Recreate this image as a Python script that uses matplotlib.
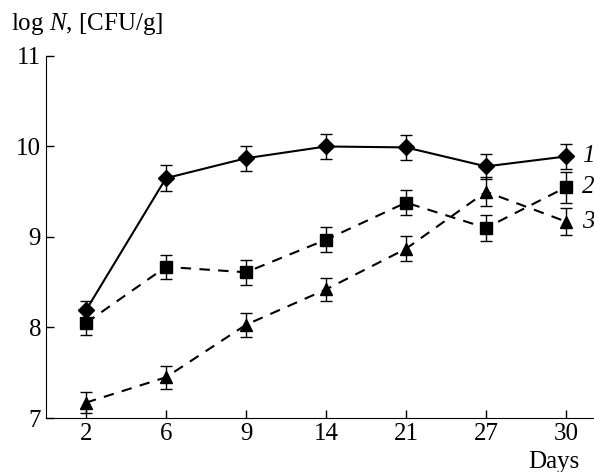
import matplotlib.pyplot as plt
import numpy as np

plt.rcParams['font.family'] = ['Liberation Serif', 'DejaVu Serif']
plt.rcParams['mathtext.fontset'] = 'custom'
plt.rcParams['mathtext.it'] = 'Liberation Serif:italic'
plt.rcParams['mathtext.rm'] = 'Liberation Serif'

days = ['2', '6', '9', '14', '21', '27', '30']
s1 = [8.19, 9.65, 9.87, 10.0, 9.99, 9.78, 9.89]
s2 = [8.05, 8.67, 8.61, 8.97, 9.38, 9.10, 9.55]
s3 = [7.17, 7.45, 8.03, 8.42, 8.87, 9.50, 9.17]
e1 = [0.10, 0.14, 0.14, 0.14, 0.14, 0.14, 0.14]
e2 = [0.13, 0.13, 0.14, 0.14, 0.14, 0.14, 0.17]
e3 = [0.12, 0.13, 0.13, 0.13, 0.14, 0.16, 0.15]
labels = ['1', '2', '3']

fig = plt.figure(figsize=(5.94, 4.72), dpi=100)
ax = fig.add_axes([0.0774, 0.1144, 0.9226, 0.767])
x = np.arange(len(days))

ax.errorbar(x, s1, yerr=e1, color='black', marker='D', markersize=8, lw=1.5,
            capsize=4.5, elinewidth=1, capthick=1)
ax.errorbar(x, s2, yerr=e2, color='black', marker='s', markersize=8, lw=1.5,
            capsize=4.5, elinewidth=1, capthick=1, dashes=(5, 4))
ax.errorbar(x, s3, yerr=e3, color='black', marker='^', markersize=8, lw=1.5,
            capsize=4.5, elinewidth=1, capthick=1, dashes=(5, 4))

for lab, s in zip(labels, [s1, s2, s3]):
    ax.text(x[-1] + 0.2, s[-1], lab, fontsize=18, style='italic', va='center')

ax.set_xlim(-0.5, 6.35)
ax.set_ylim(7, 11)
ax.set_xticks(x)
ax.set_xticklabels(days)
ax.set_yticks([7, 8, 9, 10, 11])
ax.tick_params(direction='in', labelsize=18, length=6, width=1)
ax.spines['top'].set_visible(False)
ax.spines['right'].set_visible(False)

fig.text(0.018, 0.937, r'log $N$, [CFU/g]', fontsize=18)
fig.text(0.932, 0.008, 'Days', fontsize=18, ha='center')

fig.savefig('out.png', dpi=100)
